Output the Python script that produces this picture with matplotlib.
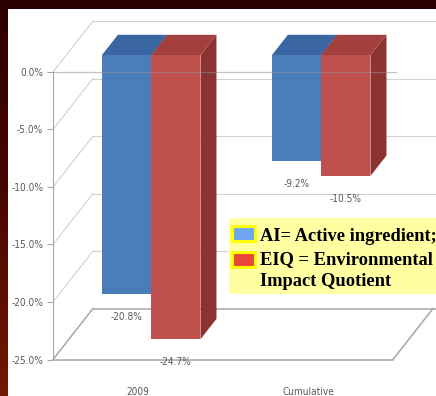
import numpy as np
import matplotlib
matplotlib.use("Agg")
import matplotlib.pyplot as plt
from matplotlib.patches import Polygon, Rectangle
from matplotlib.colors import LinearSegmentedColormap

# ---- data -------------------------------------------------------------
categories = ["2009", "Cumulative"]
ai_change = [-20.8, -9.2]          # AI: active ingredient, % change
eiq_change = [-24.7, -10.5]        # EIQ: environmental impact quotient, % change
ytick_values = [0, -5, -10, -15, -20, -25]
ytick_labels = ["0.0%", "-5.0%", "-10.0%", "-15.0%", "-20.0%", "-25.0%"]
legend_lines = [("AI= Active ingredient;",), ("EIQ = Environmental", "Impact Quotient")]

# ---- style ------------------------------------------------------------
W, H = 436, 396
SMALL = dict(family=["DejaVu Sans"], stretch="condensed", size=7.2)
LABEL_GREY = "#595959"
GRID_GREY = "#d2d2d2"
AXIS_GREY = "#a6a6a6"
BLUE = dict(front="#4a7ebb", top="#3a66a4", side="#345d94")
RED = dict(front="#c0504d", top="#a3403d", side="#8a3331")
LEG_BLUE, LEG_RED, LEG_EDGE, LEG_BG = "#6ea6f2", "#e8493b", "#ffff00", "#ffffa2"

DX, DY = 0.235, 4.43      # full depth of the 3-D box (category units, % units)
D0, D1 = 0.33, 0.73       # depth slice occupied by the columns
BAR_W = 0.29


def fx(px):
    return px / W


def fy(py):
    return 1 - py / H


fig = plt.figure(figsize=(W / 100, H / 100), dpi=100)
fig.patch.set_facecolor("white")

# dark slide frame: band on top, gradient strip on the left
fig.add_artist(Rectangle((0, fy(9)), 1, 9 / H, transform=fig.transFigure,
                         facecolor="#2d0000", edgecolor="none", zorder=-5))
strip = fig.add_axes([0, 0, fx(7), fy(9)], zorder=-5)
strip.axis("off")
cmap = LinearSegmentedColormap.from_list("frame", ["#2d0000", "#4a0600", "#721800"])
strip.imshow(np.linspace(0, 1, 256).reshape(-1, 1), cmap=cmap, aspect="auto")

# ---- main axes --------------------------------------------------------
x_max = (W - 53) / 170 - 0.5
ax = fig.add_axes([fx(53), fy(359.5), 1 - fx(53), (359.5 - 20) / H])
ax.set_xlim(-0.5, x_max)
ax.set_ylim(-25, 4.52)
ax.patch.set_alpha(0)

for s in ("top", "right"):
    ax.spines[s].set_visible(False)
ax.spines["left"].set_bounds(-25, 0)
ax.spines["left"].set_color(AXIS_GREY)
ax.spines["left"].set_linewidth(0.8)
ax.spines["bottom"].set_bounds(-0.5, 1.5)
ax.spines["bottom"].set_color(AXIS_GREY)
ax.spines["bottom"].set_linewidth(1.1)

ax.set_yticks(ytick_values, ytick_labels)
ax.tick_params(axis="y", direction="out", length=4, width=0.8, color=AXIS_GREY,
               labelcolor=LABEL_GREY, pad=3)
ax.set_xticks([0, 1], categories)
ax.tick_params(axis="x", length=0, labelcolor=LABEL_GREY, pad=20)
for lab in ax.get_yticklabels() + ax.get_xticklabels():
    lab.set_fontfamily(SMALL["family"])
    lab.set_fontstretch(SMALL["stretch"])
    lab.set_fontsize(SMALL["size"])

# side wall, back wall and floor
for v in ytick_values:
    ax.plot([-0.5, -0.5 + DX], [v, v + DY], color=GRID_GREY, lw=0.8, zorder=1)
    ax.plot([-0.5 + DX, x_max], [v + DY, v + DY],
            color=AXIS_GREY if v == -25 else GRID_GREY,
            lw=1.1 if v == -25 else 0.8, zorder=1)
ax.plot([-0.5, -0.5 + DX], [-25, -25 + DY], color=AXIS_GREY, lw=1.0, zorder=1)
ax.plot([1.5, 1.5 + DX], [-25, -25 + DY], color=AXIS_GREY, lw=1.1, zorder=1)

# ---- 3-D columns ------------------------------------------------------
dx0, dy0 = D0 * DX, D0 * DY
ddx, ddy = (D1 - D0) * DX, (D1 - D0) * DY
xpos = np.arange(len(categories))

for values, colors, offset, z in ((ai_change, BLUE, -BAR_W, 2), (eiq_change, RED, 0.0, 3)):
    lefts = xpos + dx0 + offset
    for left, v in zip(lefts, values):
        right = left + BAR_W
        ax.add_patch(Polygon([(right, dy0), (right, v + dy0), (right + ddx, v + dy0 + ddy),
                              (right + ddx, dy0 + ddy)], closed=True,
                             facecolor=colors["side"], edgecolor="none", zorder=z))
        ax.add_patch(Polygon([(left, dy0), (right, dy0), (right + ddx, dy0 + ddy),
                              (left + ddx, dy0 + ddy)], closed=True,
                             facecolor=colors["top"], edgecolor="none", zorder=z))
    ax.bar(lefts, values, width=BAR_W, bottom=dy0, align="edge",
           color=colors["front"], edgecolor="none", zorder=z + 0.5)
    for left, v in zip(lefts, values):
        ax.annotate(f"{v:.1f}%", xy=(left + BAR_W / 2, v + dy0), xytext=(0, -16.5),
                    textcoords="offset points", ha="center", va="center",
                    fontsize=SMALL["size"], family=SMALL["family"],
                    fontstretch=SMALL["stretch"], color=LABEL_GREY, zorder=6)

# category axis at 0 %, drawn across the columns
ax.plot([-0.5, 1.52], [0, 0], color="#9a8f8f", lw=0.9, alpha=0.55, zorder=6)

# ---- legend box -------------------------------------------------------
fig.add_artist(Rectangle((fx(229), fy(294)), 1 - fx(229), (294 - 218) / H,
                         transform=fig.transFigure, facecolor=LEG_BG,
                         edgecolor="none", zorder=10))
for top, color in ((226, LEG_BLUE), (251.5, LEG_RED)):
    fig.add_artist(Rectangle((fx(231.5), fy(top + 15)), 23.5 / W, 15 / H,
                             transform=fig.transFigure, facecolor=color,
                             edgecolor=LEG_EDGE, lw=2.2, joinstyle="round", zorder=11))
baselines = [241, 264, 286.5]
row = 0
for entry in legend_lines:
    for line in entry:
        fig.text(fx(260), fy(baselines[row]), line, fontsize=13.3, fontweight="bold",
                 family=["Liberation Serif", "DejaVu Serif"], color="black",
                 va="baseline", ha="left", zorder=12)
        row += 1

fig.savefig("out.png", dpi=100)
